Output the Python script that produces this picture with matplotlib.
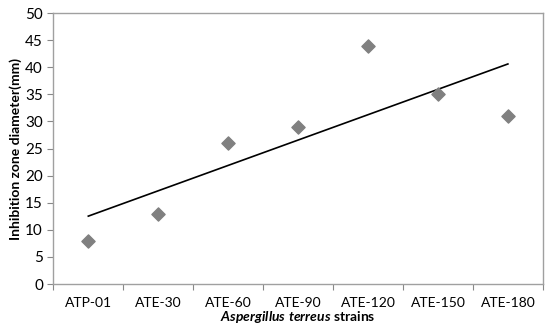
import numpy as np
import matplotlib.pyplot as plt

# strains and inhibition zone diameters (mm)
strains = ["ATP-01", "ATE-30", "ATE-60", "ATE-90", "ATE-120", "ATE-150", "ATE-180"]
zone_mm = [8, 13, 26, 29, 44, 35, 31]

plt.rcParams['font.family'] = ['Lato', 'DejaVu Sans']
plt.rcParams['mathtext.fontset'] = 'custom'
plt.rcParams['mathtext.it'] = 'Lato:italic:bold'
plt.rcParams['mathtext.rm'] = 'Lato:bold'

fig = plt.figure(figsize=(5.5, 3.35), dpi=100)
ax = fig.add_axes([0.097, 0.152, 0.89, 0.809])

x = np.arange(len(strains)) + 0.5
ax.scatter(x, zone_mm, marker='D', s=45, color='#808080', zorder=3)

# linear trendline
k, b = np.polyfit(np.arange(1, len(strains) + 1), zone_mm, 1)
xt = np.array([1, len(strains)])
ax.plot(xt - 0.5, k * xt + b, color='black', lw=1.2)

ax.set_xlim(0, len(strains))
ax.set_ylim(0, 50)
ax.set_yticks(range(0, 51, 5))
ax.set_xticks(range(len(strains) + 1))
ax.set_xticklabels([])
ax.set_xticks(x, minor=True)
ax.set_xticklabels(strains, minor=True)
ax.tick_params(axis='x', which='minor', length=0, pad=9, labelsize=10)
ax.tick_params(axis='x', which='major', length=4, color='#888888')
ax.tick_params(axis='y', length=4, color='#888888', labelsize=11)

for s in ax.spines.values():
    s.set_color('#a0a0a0')
    s.set_linewidth(1)

ax.set_ylabel('Inhibition zone diameter(mm)', fontsize=10, fontweight='bold', labelpad=2)
ax.set_xlabel(r'$Aspergillus\ terreus$ strains', fontsize=10, fontweight='bold', labelpad=0)

fig.savefig('out.png', dpi=100)
